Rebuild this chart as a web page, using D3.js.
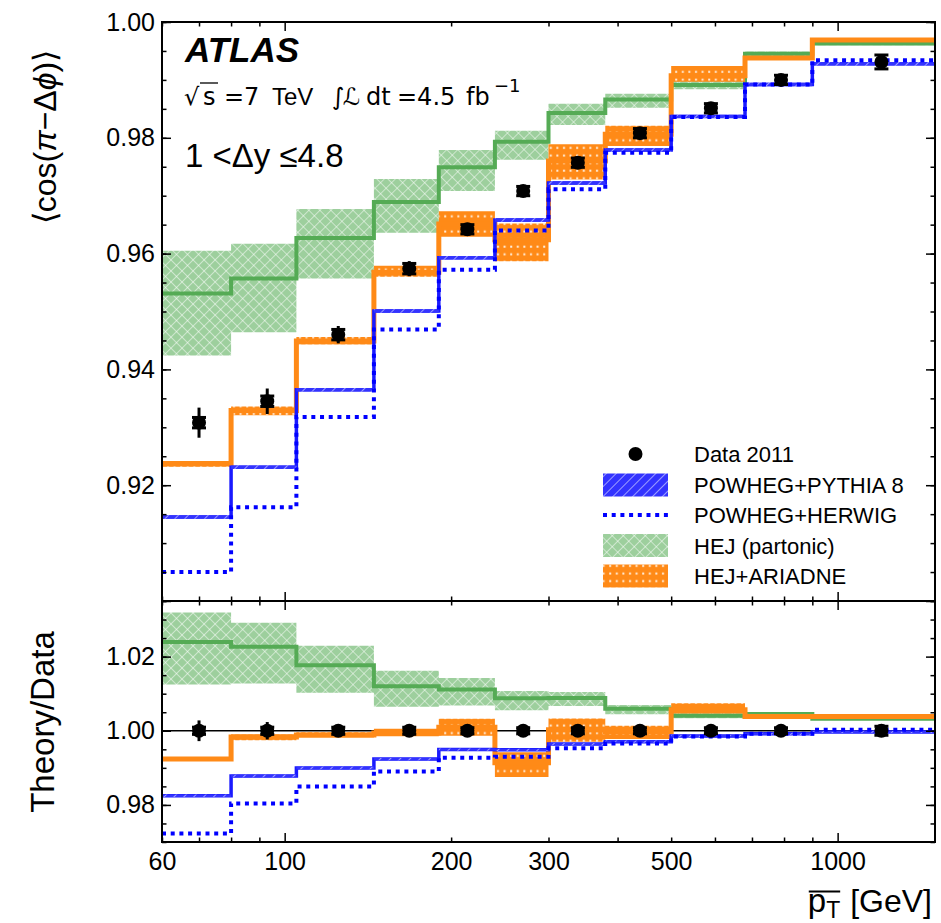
<!DOCTYPE html>
<html lang="en">
<head>
<meta charset="UTF-8">
<title>cos(pi - dphi) vs mean pT</title>
<script src="https://d3js.org/d3.v7.min.js"></script>
<style>
  body { margin: 0; background: #fff; }
  svg { display: block; font-family: 'Liberation Sans', Arial, sans-serif; }
  .tick line { stroke: #000; stroke-width: 1.5; }
  .tick text { font-size: 25px; fill: #000; }
  .domain { display: none; }
  .math { font-family: 'DejaVu Sans', sans-serif; }
</style>
</head>
<body>
<script>
// bin edges in mean pT [GeV]
const binEdges = [60, 80, 105, 145, 190, 240, 300, 380, 500, 680, 900, 1500];

// Data 2011
const dataPt   = [70, 93, 125, 168, 214, 270, 339, 439, 590, 790, 1200];
const dataVal  = [0.9308, 0.9345, 0.9460, 0.9574, 0.9642, 0.9708, 0.9757, 0.9808, 0.9851, 0.9900, 0.9931];
const dataErr  = [0.0026, 0.0022, 0.0015, 0.0013, 0.0011, 0.0009, 0.0008, 0.0008, 0.0008, 0.0008, 0.0012];
const dataStat = [0.0009, 0.0009, 0.0009, 0.0009, 0.0008, 0.0008, 0.0008, 0.0008, 0.0008, 0.0008, 0.0012];

// POWHEG+PYTHIA 8
const pythia     = [0.9145, 0.9231, 0.9365, 0.9501, 0.9593, 0.9658, 0.9722, 0.9779, 0.9837, 0.9892, 0.9928];
const pythiaBand = [0.0003, 0.0003, 0.0003, 0.0003, 0.0003, 0.0003, 0.0003, 0.0003, 0.0003, 0.0003, 0.0003];
// POWHEG+HERWIG
const herwig = [0.9050, 0.9162, 0.9318, 0.9469, 0.9572, 0.9640, 0.9711, 0.9774, 0.9836, 0.9892, 0.9934];
// HEJ (partonic)
const hej   = [0.9531, 0.9557, 0.9627, 0.9689, 0.9749, 0.9793, 0.9843, 0.9866, 0.9891, 0.9945, 0.9963];
const hejLo = [0.9424, 0.9464, 0.9557, 0.9636, 0.9708, 0.9762, 0.9822, 0.9852, 0.9884, 0.9941, 0.9960];
const hejHi = [0.9605, 0.9617, 0.9677, 0.9729, 0.9779, 0.9812, 0.9859, 0.9876, 0.9900, 0.9949, 0.9966];
// HEJ+ARIADNE
const ariadne   = [0.9237, 0.9329, 0.9449, 0.9568, 0.9651, 0.9624, 0.9760, 0.9806, 0.9907, 0.9938, 0.9969];
const ariadneLo = [0.9232, 0.9321, 0.9443, 0.9560, 0.9629, 0.9587, 0.9728, 0.9786, 0.9897, 0.9935, 0.9967];
const ariadneHi = [0.9242, 0.9336, 0.9456, 0.9579, 0.9673, 0.9652, 0.9789, 0.9821, 0.9924, 0.9941, 0.9971];

// ticks
const xTicksMinor = [60, 70, 80, 90, 200, 300, 400, 500, 600, 700, 800, 900];
const xTicksMajor = [100, 1000];
const xTickLabels = [60, 100, 200, 300, 500, 1000];
const yTopTicks = [0.90, 0.92, 0.94, 0.96, 0.98, 1.00];
const yTopLabels = ["0.92", "0.94", "0.96", "0.98", "1.00"];
const yBotTicks = [0.98, 1.00, 1.02];
const yBotLabels = ["0.98", "1.00", "1.02"];

const legendItems = ["Data 2011", "POWHEG+PYTHIA 8", "POWHEG+HERWIG", "HEJ (partonic)", "HEJ+ARIADNE"];

const W = 941, H = 923;
const X0 = 162, X1 = 935;
const TOP0 = 22, TOP1 = 601, BOT0 = 601, BOT1 = 842;

const svg = d3.select("body").append("svg").attr("width", W).attr("height", H);
const defs = svg.append("defs");

const x = d3.scaleLog().domain([60, 1500]).range([X0, X1]);
const yTop = d3.scaleLinear().domain([0.90, 1.00]).range([TOP1, TOP0]);
const yBot = d3.scaleLinear().domain([0.97, 1.035]).range([BOT1, BOT0]);

const C_GREEN_BAND = "#9dcf9d", C_GREEN = "#55ab55";
const C_ORANGE = "#ff8a17";
const C_BLUE = "#1a1aff", C_BLUE_BAND = "#3333ff";

// hatch patterns
function hatch(id, bg, size, angle, color, width, opacity) {
  const p = defs.append("pattern").attr("id", id)
    .attr("patternUnits", "userSpaceOnUse")
    .attr("width", size).attr("height", size)
    .attr("patternTransform", `rotate(${angle})`);
  p.append("rect").attr("width", size).attr("height", size).attr("fill", bg);
  p.append("line").attr("x1", 0).attr("y1", 0).attr("x2", 0).attr("y2", size)
    .attr("stroke", color).attr("stroke-width", width).attr("stroke-opacity", opacity);
  return p;
}
hatch("hBlue", C_BLUE_BAND, 7, 45, "#fff", 1.3, 0.8);
const pg = hatch("hGreen", C_GREEN_BAND, 7.8, 45, "#fff", 1.3, 0.75);
pg.append("line").attr("x1", 0).attr("y1", 0).attr("x2", 7.8).attr("y2", 0)
  .attr("stroke", "#fff").attr("stroke-width", 1.3).attr("stroke-opacity", 0.75);
const po = defs.append("pattern").attr("id", "hOrange")
  .attr("patternUnits", "userSpaceOnUse").attr("width", 6.6).attr("height", 7.6);
po.append("rect").attr("width", 6.6).attr("height", 7.6).attr("fill", C_ORANGE);
po.append("rect").attr("x", 2).attr("y", 2.5).attr("width", 2).attr("height", 2).attr("fill", "#fff").attr("opacity", 0.85);

// clip paths
defs.append("clipPath").attr("id", "clipTop").append("rect")
  .attr("x", X0).attr("y", TOP0).attr("width", X1 - X0).attr("height", TOP1 - TOP0);
defs.append("clipPath").attr("id", "clipBot").append("rect")
  .attr("x", X0).attr("y", BOT0).attr("width", X1 - X0).attr("height", BOT1 - BOT0);

function steps(vals) {
  const pts = vals.map((v, i) => [binEdges[i], v]);
  pts.push([binEdges[vals.length], vals[vals.length - 1]]);
  return pts;
}
function bandSteps(lo, hi) {
  const pts = lo.map((v, i) => [binEdges[i], v, hi[i]]);
  pts.push([binEdges[lo.length], lo[lo.length - 1], hi[hi.length - 1]]);
  return pts;
}

function drawPanel(clipId, y, norm) {
  const g = svg.append("g").attr("clip-path", `url(#${clipId})`);
  const r = arr => arr.map((v, i) => v / norm[i]);
  const line = d3.line().x(d => x(d[0])).y(d => y(d[1])).curve(d3.curveStepAfter);
  const area = d3.area().x(d => x(d[0])).y0(d => y(d[1])).y1(d => y(d[2])).curve(d3.curveStepAfter);

  if (norm[0] !== 1) {
    g.append("line").attr("x1", X0).attr("x2", X1).attr("y1", y(1)).attr("y2", y(1))
      .attr("stroke", "#000").attr("stroke-width", 1.5);
  }
  // HEJ partonic
  g.append("path").attr("d", area(bandSteps(r(hejLo), r(hejHi)))).attr("fill", "url(#hGreen)");
  g.append("path").attr("d", line(steps(r(hej)))).attr("fill", "none")
    .attr("stroke", C_GREEN).attr("stroke-width", 4);
  // HEJ+ARIADNE
  g.append("path").attr("d", area(bandSteps(r(ariadneLo), r(ariadneHi)))).attr("fill", "url(#hOrange)");
  g.append("path").attr("d", line(steps(r(ariadne)))).attr("fill", "none")
    .attr("stroke", C_ORANGE).attr("stroke-width", 5);
  // POWHEG+PYTHIA 8
  g.append("path").attr("d", line(steps(r(pythia)))).attr("fill", "none")
    .attr("stroke", C_BLUE).attr("stroke-width", 3.5);
  g.append("path").attr("d", area(bandSteps(
      r(pythia.map((v, i) => v - pythiaBand[i])), r(pythia.map((v, i) => v + pythiaBand[i])))))
    .attr("fill", "url(#hBlue)");
  // POWHEG+HERWIG
  g.append("path").attr("d", line(steps(r(herwig)))).attr("fill", "none")
    .attr("stroke", "#0000ff").attr("stroke-width", 4).attr("stroke-dasharray", "4,4.7");
  // data
  const pts = g.selectAll(".pt").data(dataPt).enter().append("g");
  pts.append("line")
    .attr("x1", d => x(d)).attr("x2", d => x(d))
    .attr("y1", (d, i) => y((dataVal[i] - dataErr[i]) / norm[i]))
    .attr("y2", (d, i) => y((dataVal[i] + dataErr[i]) / norm[i]))
    .attr("stroke", "#000").attr("stroke-width", 3);
  [-1, 1].forEach(s => {
    pts.append("line")
      .attr("x1", d => x(d) - 7).attr("x2", d => x(d) + 7)
      .attr("y1", (d, i) => y((dataVal[i] + s * dataStat[i]) / norm[i]))
      .attr("y2", (d, i) => y((dataVal[i] + s * dataStat[i]) / norm[i]))
      .attr("stroke", "#000").attr("stroke-width", 3);
  });
  pts.append("circle").attr("cx", d => x(d)).attr("cy", (d, i) => y(dataVal[i] / norm[i]))
    .attr("r", 7).attr("fill", "#000");
}

drawPanel("clipTop", yTop, dataVal.map(() => 1));
drawPanel("clipBot", yBot, dataVal);

// axes
const fmtX = d => xTickLabels.includes(d) ? String(d) : "";
function xAxes(yPos, dir, labels) {
  const mk = dir === "up" ? d3.axisBottom : d3.axisTop;
  svg.append("g").attr("transform", `translate(0,${yPos})`)
    .call(mk(x).tickValues(xTicksMinor).tickSize(-4.5).tickPadding(10).tickFormat(labels ? fmtX : () => ""));
  svg.append("g").attr("transform", `translate(0,${yPos})`)
    .call(mk(x).tickValues(xTicksMajor).tickSize(-9).tickPadding(10).tickFormat(labels ? fmtX : () => ""));
}
xAxes(TOP0, "down", false);
xAxes(TOP1, "up", false);
xAxes(BOT0, "down", false);
xAxes(BOT1, "up", true);

function yAxes(scale, ticks, labels, lo, hi) {
  const minor = d3.range(Math.round(lo * 1000), Math.round(hi * 1000) + 1, 5).map(v => v / 1000);
  const fmt = d => { const s = d.toFixed(2); return labels.includes(s) ? s : ""; };
  svg.append("g").attr("transform", `translate(${X0},0)`)
    .call(d3.axisLeft(scale).tickValues(ticks).tickSize(-9).tickPadding(7).tickFormat(fmt));
  svg.append("g").attr("transform", `translate(${X0},0)`)
    .call(d3.axisLeft(scale).tickValues(minor).tickSize(-4.5).tickFormat(() => ""));
  svg.append("g").attr("transform", `translate(${X1},0)`)
    .call(d3.axisRight(scale).tickValues(ticks).tickSize(-9).tickFormat(() => ""));
  svg.append("g").attr("transform", `translate(${X1},0)`)
    .call(d3.axisRight(scale).tickValues(minor).tickSize(-4.5).tickFormat(() => ""));
}
yAxes(yTop, yTopTicks, yTopLabels, 0.90, 1.00);
yAxes(yBot, yBotTicks, yBotLabels, 0.97, 1.035);

// frames
[[TOP0, TOP1], [BOT0, BOT1]].forEach(([a, b]) => {
  svg.append("rect").attr("x", X0).attr("y", a).attr("width", X1 - X0).attr("height", b - a)
    .attr("fill", "none").attr("stroke", "#000").attr("stroke-width", 2);
});

// axis titles
const yl = svg.append("text").attr("transform", "translate(56,137) rotate(-90)")
  .attr("text-anchor", "middle").style("font-size", "32px");
yl.append("tspan").text("\u27E8cos(");
yl.append("tspan").style("font-style", "italic").text("\u03C0");
yl.append("tspan").text("\u2212\u0394");
yl.append("tspan").style("font-style", "italic").text("\u03D5");
yl.append("tspan").text(")\u27E9");

svg.append("text").attr("transform", "translate(54,722) rotate(-90)")
  .attr("text-anchor", "middle").style("font-size", "33px").text("Theory/Data");

const gev = svg.append("text").attr("x", 932).attr("y", 912).attr("text-anchor", "end")
  .style("font-size", "32px").text("[GeV]");
const gevW = gev.node().getComputedTextLength();
const pt = svg.append("text").attr("x", 932 - gevW - 10).attr("y", 912).attr("text-anchor", "end")
  .style("font-size", "33px");
pt.append("tspan").text("p");
pt.append("tspan").attr("dy", 6).style("font-size", "23px").text("T");
const pb = pt.node().getBBox();
svg.append("line").attr("x1", pb.x + 1).attr("x2", pb.x + pb.width)
  .attr("y1", 891.5).attr("y2", 891.5).attr("stroke", "#000").attr("stroke-width", 2);

// ATLAS labels
svg.append("text").attr("x", 185).attr("y", 62).style("font-size", "35px")
  .style("font-weight", "bold").style("font-style", "italic").text("ATLAS");

const lum = svg.append("text").attr("class", "math").attr("y", 105).style("font-size", "24px");
lum.append("tspan").attr("x", 184).text("\u221A");
lum.append("tspan").attr("x", 203).text("s");
lum.append("tspan").attr("x", 224).text("=7");
lum.append("tspan").attr("x", 272).style("font-family", "'Liberation Sans', Arial, sans-serif").text("TeV");
lum.append("tspan").attr("x", 332).text("\u222B");
lum.append("tspan").attr("x", 343).style("font-style", "italic").text("\u2112");
lum.append("tspan").attr("x", 366).text("dt");
lum.append("tspan").attr("x", 397).text("=4.5");
lum.append("tspan").attr("x", 466).text("fb");
lum.append("tspan").attr("x", 494).attr("dy", -13).style("font-size", "18px").text("\u22121");
svg.append("line").attr("x1", 200).attr("x2", 218).attr("y1", 83).attr("y2", 83)
  .attr("stroke", "#000").attr("stroke-width", 1.3);

svg.append("text").attr("x", 185).attr("y", 167).style("font-size", "33px")
  .text("1 <\u0394y \u22644.8");

// legend
const legX = 603, legW = 65, legH = 23, rowY = [454, 485, 515, 545.5, 576];
const leg = svg.append("g");
leg.append("circle").attr("cx", legX + legW / 2).attr("cy", rowY[0]).attr("r", 7).attr("fill", "#000");
leg.append("rect").attr("x", legX).attr("y", rowY[1] - legH / 2).attr("width", legW).attr("height", legH)
  .attr("fill", "url(#hBlue)");
leg.append("line").attr("x1", legX).attr("x2", legX + legW).attr("y1", rowY[2]).attr("y2", rowY[2])
  .attr("stroke", "#0000ff").attr("stroke-width", 4).attr("stroke-dasharray", "4,4.7");
leg.append("rect").attr("x", legX).attr("y", rowY[3] - legH / 2).attr("width", legW).attr("height", legH)
  .attr("fill", "url(#hGreen)");
leg.append("rect").attr("x", legX).attr("y", rowY[4] - legH / 2).attr("width", legW).attr("height", legH)
  .attr("fill", "url(#hOrange)");
leg.selectAll(".lt").data(legendItems).enter().append("text")
  .attr("x", 694).attr("y", (d, i) => rowY[i] + 8)
  .style("font-size", "22px").text(d => d);
</script>
</body>
</html>
